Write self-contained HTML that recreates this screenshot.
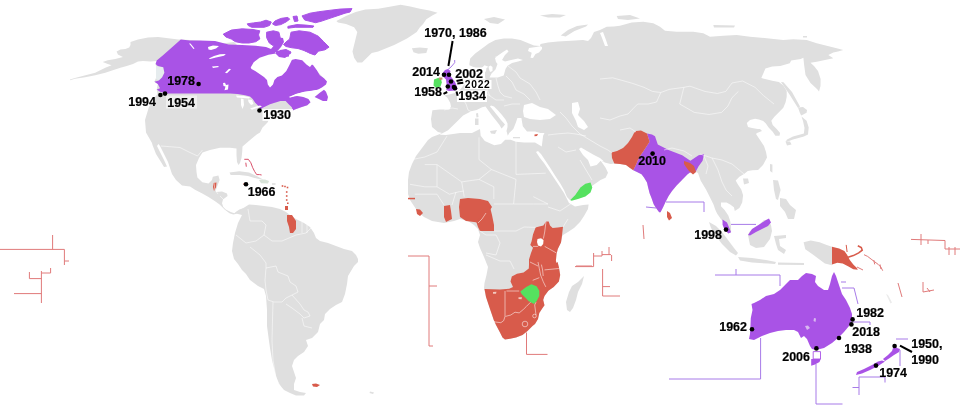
<!DOCTYPE html>
<html><head><meta charset="utf-8"><title>Commonwealth Games hosts</title>
<style>
html,body{margin:0;padding:0;background:#fff;width:960px;height:405px;overflow:hidden}
svg{display:block;will-change:transform}
text{font-family:"Liberation Sans",sans-serif;font-weight:bold;fill:#000;stroke:#000;stroke-width:0.2px}
</style></head><body>
<svg width="960" height="405" viewBox="0 0 960 405">
<rect width="960" height="405" fill="#fff"/>
<path d="M70 79.5 L75 78 L82.6 76 L95.2 72.8 L105.3 67.8 L111.6 65.3 L107.8 64 L102.7 62.1 L107.8 60.2 L115.3 59 L122.9 57.1 L117.9 54.6 L116.6 51.4 L120.4 49.5 L125.4 48.9 L129.2 47.6 L130.5 45.1 L130.5 42 L138 39.4 L148 37.6 L158.2 37 L168.2 38.2 L178.3 39.6 L180.8 39.6 L190 40 L202 41 L210 42 L216 45 L226 43 L234 42 L238 46 L244 48 L250 52 L256 54 L270 53 L286 55 L292 58 L298 59 L306 62 L310 66 L316 70 L319.5 73.8 L323 77.5 L326 82.6 L323 86.4 L320.7 87.6 L317.7 89.7 L312 91 L304 92 L296 94 L289 97.5 L297 96 L303.2 97 L308.4 99 L310.5 102.2 L307.3 105.3 L301.1 107.3 L294.9 109.4 L292.8 110.5 L290 109.5 L286 111 L282.5 112.5 L275 115 L270 117.5 L267.5 122.5 L262.5 127.5 L260 132.5 L256.7 134.4 L248.9 141 L242.5 146.5 L242.2 152 L241.5 158 L240 163 L238.5 165 L237 162 L236.5 155 L236.5 148.5 L230 147.8 L220 147.8 L210 150 L202.5 152.5 L199 158 L196 165 L196.5 172 L197.4 177.4 L202.3 182.3 L208.5 183.6 L212 180 L212.8 176.8 L218.4 175.6 L219.6 180 L217.8 184.8 L216 189.8 L216 192 L222 191.6 L227 193.5 L227.6 196 L223 199.6 L222 203.3 L223.3 207 L225.8 209.5 L230.7 212 L234.4 213.2 L235.7 212 L239.4 209.5 L243 208.3 L244 212 L240 214 L237 213.8 L233.2 214.4 L229.5 213.2 L224.6 209.5 L219.6 204.6 L214.7 201 L208.5 197 L202.3 193.5 L195 189.8 L190 186.5 L182 185.5 L176 180 L172 174 L170 168 L168 162 L164 154 L160 146 L158.5 144 L157 146 L160 152 L164 160 L167 166.5 L164 167 L161 162 L156 154 L152.5 145 L152 143 L146 132.5 L145 120 L148.75 107.5 L155 97 L157.5 94 L156.7 89.4 L157.8 83.9 L154.4 81.7 L156 78 L156 66 L155.6 63.9 L157 61 L150.6 61.5 L143 61 L138 61.5 L133 64 L126.7 66 L120.4 67.8 L112.8 70.3 L105.3 72.8 L95.2 75.3 L85.1 77.2 L75 78.8 L70 80.2 Z" fill="#dfdfdf"/>
<path d="M156 66 L163.3 67.2 L164.4 72.8 L162.2 77.2 L158.9 80.6 L156 79 Z" fill="#e6ecee"/>
<path d="M180.8 39.6 L190 40.5 L200 40.5 L215 41 L228.6 44.4 L242 45 L255.8 45.8 L266 47 L271 49 L273.5 46 L275 40 L279 37.5 L283 38 L284 42 L281 47 L278 50.5 L275 52.5 L290.6 58.7 L296.5 58.4 L302.4 59.5 L306.9 62.4 L313 65 L316.7 70 L319.8 75.2 L324 78.3 L327 81.4 L326 84.5 L321.9 87.6 L317.7 89.7 L312 91 L304 92 L296 94 L289 97.5 L297 96 L303.2 97 L308.4 99 L310.5 102.2 L307.3 105.3 L301.1 107.3 L294.9 109.4 L292.8 110.5 L291.8 107.3 L288.7 104.2 L285.6 101.1 L280.4 101.1 L270 104.2 L262.8 107.8 L260.3 109.5 L259 106.5 L255.2 102.7 L252.7 99 L250 96.4 L245 95.2 L237.6 94 L230 93.6 L165.6 93.4 L160 91.7 L156.7 89.4 L160 88.3 L157.8 83.9 L154.4 81.7 L158.9 80.6 L162.2 77.2 L164.4 72.8 L163.3 67.2 L157.8 66.1 L155.6 63.9 L156.7 60.6 L163.3 55 Z" fill="#a953e6"/>
<path d="M250.7 67.4 L253.7 62.2 L259.6 57.8 L268.5 54.8 L277.4 53.3 L284.8 54.8 L289.3 51.9 L293.7 50.4 L301 48.9 L303 51 L298 55 L292.2 59.3 L289.3 65.2 L286.3 71.1 L281.9 75.6 L277.4 77 L274.4 80 L273 84.4 L270 87.6 L267.8 84.4 L267 80 L264 77 L259.6 74 L255.2 71.1 L251.5 68.9 Z" fill="#ffffff"/>
<path d="M288.7 97 L296 93.9 L304.2 91.8 L311.5 90.7 L317.7 89.7 L320 89.7 L316 92.5 L314.6 97 L313.6 98 L309.4 95.9 L303.2 94.9 L297 94.9 L290.7 97.5 Z" fill="#ffffff"/>
<path d="M208 47 L213 45.5 L219 46 L216 48.5 L211 50 L208.5 49.5 Z" fill="#ffffff"/>
<path d="M208.8 58.4 L214 56 L220 54.3 L225.8 54 L224 55.8 L216 57.5 L210 59 Z" fill="#ffffff"/>
<path d="M212 66.6 L218 65.9 L219 67 L213 67.9 Z" fill="#ffffff"/>
<path d="M225 72.8 L229 68.8 L231 69.2 L227 73.3 Z" fill="#ffffff"/>
<path d="M223 83 L225 82.8 L226 85 L228.5 84.5 L228 89.5 L224.5 90.3 L225.5 86.5 L223.5 86 Z" fill="#ffffff"/>
<path d="M189 43.4 L190.5 43.6 L194.5 48.4 L193.5 48.9 Z" fill="#ffffff"/>
<path d="M276 51 L282 50.2 L288 51.5 L289 55 L285 58 L279 57 L276 54 Z" fill="#a953e6"/>
<path d="M314.6 97 L319.8 92.8 L324 89.7 L326 91.8 L328 97 L327 101.1 L322.9 101.1 L318.8 99 Z" fill="#a953e6"/>
<path d="M236 95.5 L244 96 L250 97.2 L249 98.5 L243 98 L237 97.5 Z" fill="#ffffff"/>
<path d="M241 98.5 L243.5 99 L244 105 L242.5 109 L241 105 Z" fill="#ffffff"/>
<path d="M248 99.5 L252 100 L253.5 104 L251 105 L248.5 102 Z" fill="#ffffff"/>
<path d="M250 108.5 L256 106.5 L260 105.5 L262 106.5 L257 108 L252 109.8 Z" fill="#ffffff"/>
<path d="M302 15.9 L310 13.2 L318.3 11.8 L329 10.4 L340 9.1 L352 8.6 L350 12 L345 13.2 L337 15.9 L329 18.6 L321 21.3 L315.5 22.7 L310 21.3 L304.7 20 Z" fill="#a953e6" stroke="#a953e6" stroke-width="1" stroke-linejoin="round"/>
<path d="M247.3 23.8 L253.5 22.9 L260.6 22 L266 20.2 L271.3 22 L269.5 25.5 L264.2 27.3 L258 27.3 L251.7 27.3 L248.2 25.5 Z" fill="#a953e6" stroke="#a953e6" stroke-width="1" stroke-linejoin="round"/>
<path d="M275 21 L279 19.2 L281.6 18.3 L287.9 17.4 L289.7 19.2 L286.1 21.9 L280.8 24.6 L275.4 25.5 L272.5 24 Z" fill="#a953e6" stroke="#a953e6" stroke-width="1" stroke-linejoin="round"/>
<path d="M287.9 26.4 L296.9 24.6 L305.8 25.1 L313.9 26 L313 27.3 L304 27.3 L295.1 27.3 L287.9 28.2 Z" fill="#a953e6" stroke="#a953e6" stroke-width="1" stroke-linejoin="round"/>
<path d="M293 16.5 L297 16 L298 21 L294.5 21.5 Z" fill="#a953e6" stroke="#a953e6" stroke-width="1" stroke-linejoin="round"/>
<path d="M223.2 34.2 L231.3 30.1 L242.2 28.8 L253 29.5 L259.8 30.8 L258.5 34.9 L259.8 39 L255.8 41.7 L249 43 L242.2 43 L235.4 41.7 L231.3 39 L225.9 37 Z" fill="#a953e6" stroke="#a953e6" stroke-width="1" stroke-linejoin="round"/>
<path d="M266.6 32.2 L273.4 30.8 L278.9 32.2 L280.2 37.6 L277.5 43 L273.4 45.8 L269.3 43 L266.6 37.6 Z" fill="#a953e6" stroke="#a953e6" stroke-width="1" stroke-linejoin="round"/>
<path d="M291 32.2 L299.2 30.8 L310 32.2 L318.3 36.2 L323.7 41.7 L329 47.1 L325 49.8 L318.3 51.2 L315 55 L310 53.5 L304 50.5 L298 48.5 L292 47.8 L286 46.5 L283.5 44.5 L286 42 L289.7 39 Z" fill="#a953e6" stroke="#a953e6" stroke-width="1" stroke-linejoin="round"/>
<path d="M280 50.5 L286 49.5 L291 52 L289 56 L283 56.6 L279.5 54 Z" fill="#a953e6" stroke="#a953e6" stroke-width="1" stroke-linejoin="round"/>
<path d="M288.9 54.7 L295.6 52.4 L302.2 51.3 L306.7 52.4 L312 55 L315 59 L313 63 L310 66.9 L306.7 64.7 L302.2 60.2 L295.6 59.1 L290 60.2 Z" fill="#ffffff"/>
<path d="M336.4 20.9 L346 16 L355.7 12 L365.3 9.6 L378.2 8.8 L391 6.4 L400.6 4.8 L410.3 6.4 L419.9 8.8 L429.5 10.4 L437.5 12.8 L432.7 15.2 L426.3 19.3 L423.1 24.1 L419.9 27.3 L416.7 32.1 L411.9 35.3 L407 38.5 L400.6 41.7 L394.2 44.9 L386.2 48.2 L378.2 51.4 L371.7 53 L366.9 57.8 L362.1 62.6 L357.3 62.6 L354.1 57.8 L352.5 51.4 L354.1 44.9 L355.7 38.5 L357.3 32.1 L354.1 27.3 L346 24.1 L338 22.5 Z" fill="#dfdfdf"/>
<path d="M411.9 48.2 L419.9 47.4 L427.9 48.2 L426.3 53 L418.3 53.8 L413.5 52.2 Z" fill="#dfdfdf"/>
<path d="M484 19 L494 17 L505 19.5 L498 24 L490 23 Z" fill="#dfdfdf"/>
<path d="M442 133 L438 132 L432 127 L431 119 L432.4 110.2 L439.8 109.5 L449.4 109.5 L451 106.5 L450.2 102.8 L447.2 97.6 L444.3 95.4 L449 94.5 L455 93 L459 91 L463 86 L467 80 L472 77 L478 75 L484 74 L486 71 L486.5 68 L488.5 66.8 L484.5 65.2 L482 67.8 L477 68.6 L469.4 65.2 L469.4 63.6 L470.2 58.5 L475.2 53.5 L482 48.5 L488.7 43.4 L495.4 40 L503.8 38.4 L512 38.4 L520.5 40 L529 43.4 L534 45.5 L540 46 L540.5 44 L548 42.6 L558 41.4 L570.8 40.7 L583 40 L588 41 L591 38 L594 32 L600 30 L606.7 26.7 L613.8 26.5 L620 25.8 L631.7 22.5 L643.3 21.7 L653.3 23.3 L660 26.7 L665 30.8 L676.7 31.7 L693.3 31.7 L703.3 33.3 L710 36.7 L723.3 35.8 L736.7 35 L750 36.7 L766.7 38.3 L783.3 40 L793.3 39.2 L806.7 40 L816.7 43.3 L826.7 45.8 L836.7 48.3 L843.3 50 L838 51.5 L833.3 52.5 L828.3 55 L833.3 58.3 L825 60 L816.7 61.7 L810.5 62.8 L814 66 L818 71 L820.6 79 L820.5 86 L819 91.5 L817 89 L810.5 83 L805.5 75 L804 64 L803.4 57.7 L800.7 59.1 L791.2 60.4 L789.8 63.2 L780.3 65.9 L772.2 66.5 L765.4 68.6 L761.3 78.1 L772.2 80.8 L778.9 82 L783.3 85.6 L786.7 91.1 L786.7 96.7 L785.6 102.2 L783.3 107.8 L778.9 112.2 L774.4 116.7 L771.3 120.8 L772.7 124.9 L776.7 129 L780.1 133 L779.5 135.8 L775.4 135.8 L772.7 131.7 L768.6 127.6 L765.9 123.5 L763.2 121 L759 119.5 L755 118.7 L750 120 L746.8 122.9 L748 127 L752 128 L757.7 129 L760 129 L762 131 L757 133 L756 134 L760 140 L764 146 L766 152 L767 157.6 L763 165 L758 170 L752.4 170.2 L747.8 171.1 L744 173.9 L739.4 176.7 L735.7 180.4 L737.6 184 L741.3 189.6 L743.1 195.2 L742.2 202.6 L739.4 208.1 L734.8 211 L733.9 207.2 L730.2 204.4 L726.5 202.6 L721 202.6 L721 206.3 L724.6 210 L728.3 215.6 L730.2 221 L731 226 L731.1 232.2 L728.3 233.1 L724.6 229.4 L722.8 224.8 L722.8 221 L721 219.3 L717.2 213.7 L715.4 210 L713.5 204.4 L709.8 197 L706 189.6 L700.6 180.4 L698 173 L696 172 L690 172.5 L687.6 174.3 L682 180 L676.8 185.2 L672 191 L668.6 196 L665.5 202 L663.2 207 L660.5 212.3 L659.2 212.3 L656 208 L653.7 204.2 L651.5 198 L649.6 193.3 L648 187 L647 182.5 L644 177.5 L641.5 174.3 L637 172 L633.3 170.2 L630 168 L626 165 L620 164 L614.3 163.6 L610.6 164 L605.6 162.7 L600.5 160.5 L603 164 L605.6 167.7 L608 172.7 L605.6 177.8 L600.5 180 L593 185.3 L589 188 L585.4 190.4 L580 194 L575 197.5 L570.3 200.5 L567 197 L564 190 L560 183 L555 175.5 L550 167.5 L545 160 L541 154 L538 151 L536 152 L540 158 L544 163 L548 169 L552 175 L556 181 L560 187 L564 193 L567 199 L569 203 L575 206.4 L583 205 L588.6 204.6 L588 209 L584 216 L580 222 L574 228 L568 232 L563 235 L561.8 237.3 L561 242.5 L557.8 249 L556.5 254.3 L555.9 260.8 L556.5 263 L557.6 262 L558.9 267.2 L560.2 275.1 L558.9 281.6 L553.7 286.9 L548.4 290.8 L544.5 296 L543.2 300 L544.5 305.2 L541.9 309.1 L539.3 313 L538 319 L535 324 L532.5 326 L527.5 331 L522.5 335 L516 337.5 L510 338.75 L505 339.4 L502.5 337.5 L500 332.5 L496 325 L493.75 320 L490 309 L486 297 L484 288 L484.5 283 L486.5 275 L488 267 L484 257 L480 248 L478 242 L480 235 L478 229 L474 225 L468 221 L460 219 L454 221 L444 223 L432 221 L424 217 L418 212 L414 206 L410 200 L408 194 L408 188 L408 180 L409 172 L412 164 L416 156 L422 148 L428 140 L432 137 L440 134 Z" fill="#dfdfdf"/>
<path d="M440 134.4 L448.1 130.3 L456.3 122.2 L463.1 115.4 L471.2 111.3 L476.6 109.9 L482.1 107.2 L485.5 106.5 L488 110 L492 115.5 L496 120.5 L499.5 125 L501.5 128.5 L499.5 130.5 L503 127 L505 124.5 L501 120 L497 115 L493 110 L490 106.5 L491 105.5 L494 106.5 L498 110.5 L502 115 L505.5 119.5 L507.5 123.5 L507.5 127 L506.5 131 L507.8 135.7 L509.2 133 L513.3 129 L516 122.2 L517.4 118 L521.4 118 L522.8 126.2 L527 131.6 L535 131.6 L540.5 133 L544.5 133 L543.1 135.7 L541.8 146.6 L535 142.5 L524.2 142.5 L516 141.8 L510.6 139.8 L505.2 139.8 L501 143.9 L494.3 145.2 L484.8 141.1 L480.7 135.7 L480 129 L472 133 L460 133 L446 135 L440 134.8 Z" fill="#ffffff"/>
<path d="M476 113.5 L478 113 L478.5 117 L476.5 117.5 Z" fill="#dfdfdf"/>
<path d="M475 118.5 L478.5 118.5 L478.5 125 L475 125 Z" fill="#dfdfdf"/>
<path d="M490 131 L497 130 L495 134 L491 133.5 Z" fill="#dfdfdf"/>
<path d="M513 137 L520 137 L520 138.3 L513 138.3 Z" fill="#dfdfdf"/>
<path d="M524 105 L532 103 L540 107 L548 109 L556 115 L550 119 L540 120 L530 119 L524 117 L523 111 Z" fill="#ffffff"/>
<path d="M572 103 L578 102 L580 109 L578 115 L584 121 L588 127 L584 130 L578 127 L576 121 L572 113 Z" fill="#ffffff"/>
<path d="M579 149 L583 155 L588 160 L590.5 166.4 L596.7 165 L600.5 161 L604 161.5 L600 158 L594 155 L587 151 L581 147.5 Z" fill="#ffffff"/>
<path d="M507 49.5 L503 52 L498 55.5 L495 58 L496 62 L497.5 64 L495.5 69.5 L491.5 73.5 L489.5 77.5 L497.7 77.6 L503.7 75.6 L505.6 68.7 L507.6 65.7 L512 63 L518 61.5 L523 60 L518 58.5 L511 60 L505 61.5 L502 60 L505 55 L508.5 51.5 Z" fill="#ffffff"/>
<path d="M488.5 66.8 L490.5 65.5 L492.5 67 L492.5 71 L490 72 L489 69 Z" fill="#ffffff"/>
<path d="M540 46.3 L536 47 L529 48 L528 51 L531.7 52.7 L530.5 57.7 L533 58 L535.5 54 L539 52.5 L542 49 L542 47 Z" fill="#ffffff"/>
<path d="M445 70 L448 69 L450.5 71 L449.5 74.5 L452 78 L455 82 L456.5 85.5 L457.5 89 L455 90.5 L449 91 L446 90 L448 87.5 L446.5 83.5 L446 79.5 L443.5 77 L443 72.5 Z" fill="#a953e6"/>
<path d="M434 79.5 L438 78 L441 78.5 L441.8 82.5 L440.5 86.5 L436 88 L433.5 85.5 Z" fill="#55e15f"/>
<path d="M438.7 77.6 L442.3 77.4 L442.5 79.6 L439.5 80 Z" fill="#c9906f"/>
<path d="M534.5 134.5 L538 134 L537 136 L534.5 136.2 Z" fill="#d85b4b"/>
<path d="M560.7 35.5 L568 30 L577 26 L588 24.5 L586 26.5 L574.5 31 L565.7 36.5 Z" fill="#dfdfdf"/>
<path d="M540 15.5 L552 14 L566 15 L560 17.5 L548 17.5 Z" fill="#dfdfdf"/>
<path d="M616.7 16 L630 15 L640 18.5 L628 20 L618 19 Z" fill="#dfdfdf"/>
<path d="M600 33 L603 32 L606 40 L608 46 L605 46 L602 38 Z" fill="#ffffff"/>
<path d="M713.3 25 L735 25.5 L734 27.5 L714 27.5 Z" fill="#dfdfdf"/>
<path d="M803 36 L807 36 L807 37.5 L803 37.5 Z" fill="#dfdfdf"/>
<path d="M781 82 L783.5 82.3 L792 92 L800 106.5 L798 108 L789.5 94.5 Z" fill="#dfdfdf"/>
<path d="M798 107.5 L803 107 L807 110 L806.6 112.7 L801.2 115.4 L799.8 112.7 Z" fill="#dfdfdf"/>
<path d="M801.5 116.5 L806.6 120.8 L808.7 127.6 L808 134.4 L803.9 136.5 L798.5 138 L793 139.5 L787.6 141.5 L785.6 141.9 L787 139.5 L793 136.5 L798.5 135 L803.9 133.5 L804.5 128 L803 121 Z" fill="#dfdfdf"/>
<path d="M785.5 141.5 L790 141.5 L791.5 144.5 L787 145.5 Z" fill="#dfdfdf"/>
<path d="M770 164 L772.4 164.5 L772.4 172.7 L770 171 Z" fill="#dfdfdf"/>
<path d="M743 178.5 L748 178.5 L749 183 L744 184.5 Z" fill="#dfdfdf"/>
<path d="M773 180 L778 180.5 L780.6 190 L778 200 L776 199 L774 190 Z" fill="#dfdfdf"/>
<path d="M780 198 L786 199 L790 205 L796 210 L794 219 L788 219 L785 212 L780 206 Z" fill="#dfdfdf"/>
<path d="M667 211 L670 213 L672 218 L669 220.5 L667 217 Z" fill="#d85b4b"/>
<path d="M709 222 L716 226 L722 232 L728 240 L734 248 L738 253 L736 255.5 L730 252 L722 244 L716 236 L711 228 Z" fill="#dfdfdf"/>
<path d="M738 257 L752 258 L766 260 L776 262 L775 264 L768 263.5 L752 262.5 L740 260.5 Z" fill="#dfdfdf"/>
<path d="M778 262.5 L804 263 L804 265 L778 264.8 Z" fill="#dfdfdf"/>
<path d="M748 235 L750 245 L756 248 L764 247 L770 239 L772 231 L771 225 L768 220.5 L764 220 L756 228 L750 231 Z" fill="#dfdfdf"/>
<path d="M748 235 L752 229 L760 224 L766 220 L769 218.5 L771 222.5 L768 226 L762 229 L756 232 L750 235.5 Z" fill="#a953e6"/>
<path d="M774 236 L786 235 L786 238 L779 239 L780 246 L786 250 L784 254 L778 250 L776 244 Z" fill="#dfdfdf"/>
<path d="M803.6 242.2 L810.7 240.4 L819.6 242.2 L826.7 244.9 L832 246.7 L832 265.3 L824.9 263.6 L817.8 258.2 L810.7 252.9 L805.3 249.3 Z" fill="#dfdfdf"/>
<path d="M832 246.7 L839.1 248.4 L844.4 251.1 L847.1 254.7 L849.8 260 L853.3 264.4 L856.9 268 L857.8 269.8 L853.3 269.2 L848 266.2 L842.7 263.6 L837.3 262.7 L832 264.4 Z" fill="#d85b4b"/>
<path d="M584 276 L582 284 L578 292 L576 300 L573 308 L570 312 L567 310 L566 302 L569 292 L572 286 L578 282 Z" fill="#dfdfdf"/>
<path d="M647 133.6 L652 134.5 L655 136.3 L657.8 144.5 L668.6 150 L682.2 155.3 L690.4 160.7 L698.6 155.3 L704 154 L702.6 160.7 L698.6 166.2 L695.8 171.6 L690 172.5 L687.6 174.3 L682 180 L676.8 185.2 L672 191 L668.6 196 L665.5 202 L663.2 207 L660.5 212.3 L659.2 212.3 L656 208 L653.7 204.2 L651.5 198 L649.6 193.3 L648 187 L647 182.5 L644 177.5 L641.5 174.3 L637 172 L633.3 170.2 L636 164.8 L638.8 158 L644.2 149.9 L649.6 141.7 Z" fill="#a953e6"/>
<path d="M636 131 L641 130.5 L647 133.6 L649.6 141.7 L644.2 149.9 L638.8 158 L636 164.8 L633.3 170.2 L630 168 L626 165 L620 164 L614.3 163.6 L612 158 L611.6 152.6 L617 151 L623 148 L628 143 L632 137 L634 133 Z" fill="#d85b4b"/>
<path d="M684 161 L690 163 L694 166 L696 172 L693 174.5 L689 171 L686 167 L684 164 Z" fill="#d85b4b"/>
<path d="M722.5 219.5 L727 222.5 L729.3 228 L731.1 232.2 L728.3 233.4 L724.6 229.6 L722.6 225 Z" fill="#a953e6"/>
<path d="M460 199 L468 198 L480 199 L488 201 L492 207 L488 213 L486 219 L480 223 L474 222 L466 221 L460 217 L459 207 Z" fill="#d85b4b"/>
<path d="M490 207 L492 215 L494 225 L494 231 L480 231 L478 227 L476 221 L484 215 Z" fill="#d85b4b"/>
<path d="M444 206 L450 205 L451 211 L452 219 L446 222 L444 217 Z" fill="#d85b4b"/>
<path d="M416 209 L420 209.5 L423 213 L420 216 L417 214 Z" fill="#d85b4b"/>
<path d="M408 197.8 L415 197.8 L415 199.3 L408 199.3 Z" fill="#d85b4b"/>
<path d="M535.6 227.4 L538.2 226.8 L543.4 225.5 L546 221.5 L548.7 221.5 L550 225.5 L552.6 228 L557.8 227.4 L563 226.8 L562.4 232 L561.8 237.3 L561 242.5 L557.8 249 L556.5 254.3 L555.9 260.8 L556.5 263 L557.6 262 L558.9 267.2 L560.2 275.1 L558.9 281.6 L553.7 286.9 L548.4 290.8 L544.5 296 L543.2 300 L544.5 305.2 L541.9 309.1 L539.3 313 L538 319 L535 324 L532.5 326 L527.5 331 L522.5 335 L516 337.5 L510 338.75 L505 339.4 L502.5 337.5 L500 332.5 L496 325 L493.75 320 L490 309 L486 297 L484.5 289 L500 289.5 L509.2 288.8 L513 286.9 L510.5 281.6 L511.8 276.4 L517 273.8 L523.6 272.5 L528.8 268.5 L529 264.7 L529 259.5 L531 253 L533 247.7 L530.3 245.1 L531.6 241.2 L533 234.6 Z" fill="#d85b4b"/>
<path d="M537.5 239 L541 238.3 L543.5 240 L543.2 244 L541 246.4 L538 245.5 L537 242 Z" fill="#ffffff"/>
<path d="M493 292 L496.5 291.8 L496 293.8 L493 293.8 Z" fill="#f3c9bf"/>
<path d="M518.5 297.3 L522 297.3 L521.5 299.2 L518.5 299 Z" fill="#f3c9bf"/>
<path d="M520.3 291.5 L526.2 286.9 L531.4 284.2 L536.6 286.2 L539.3 290.8 L539.3 296 L536.6 301.3 L534 303.9 L528.8 301.3 L524.9 297.3 L521.6 294 Z" fill="#55e15f"/>
<path d="M570.3 200 L575.3 195 L580.4 187.6 L585.4 183.8 L590.5 182.5 L592.3 187.6 L590.5 192.6 L585.4 196.4 L578 199 L571.6 200.8 Z" fill="#55e15f"/>
<path d="M237 213.8 L243 208.3 L249 204.6 L256 205 L264 206 L272 207 L280 209 L286 212 L290 215 L296 219 L304 223 L310 227 L314 233 L316 238 L320 241 L328 243 L336 246 L344 249 L352 251 L356 255 L358 259 L358 262 L354 266 L348 276 L347 284 L345 294 L342 302 L336 305 L330 309 L325 314 L324 320 L320 324 L318 332 L312 338 L306 340 L308 346 L304 352 L298 356 L294 360 L292 366 L294 372 L296 378 L294 384 L294 390 L300 392 L306 393 L304 395.5 L296 395.5 L290 393 L284 390 L279 384 L276 376 L274 368 L272 360 L270 348 L269 341 L267 326 L267 310 L266 296 L264 289 L258 286 L250 280 L246 274 L242 270 L238 264 L234 259 L232 251 L233 243 L235 233 L238 223 L242 215 Z" fill="#dfdfdf"/>
<path d="M287 215 L292 215 L296 221 L296 229 L293 233 L290 233 L289 227 L287 221 Z" fill="#d85b4b"/>
<path d="M312 384 L316 383.5 L320 385 L317 387 L313 386.5 Z" fill="#d85b4b"/>
<path d="M285 206 L288 206 L288 210 L285 210 Z" fill="#d85b4b"/>
<path d="M281.7 185.2 L283.3 185.2 L283.3 186.8 L281.7 186.8 Z" fill="#d85b4b"/>
<path d="M284.2 185.7 L285.8 185.7 L285.8 187.3 L284.2 187.3 Z" fill="#d85b4b"/>
<path d="M286.7 186.7 L288.3 186.7 L288.3 188.3 L286.7 188.3 Z" fill="#d85b4b"/>
<path d="M285.9 191.2 L287.5 191.2 L287.5 192.8 L285.9 192.8 Z" fill="#d85b4b"/>
<path d="M285.9 195.2 L287.5 195.2 L287.5 196.8 L285.9 196.8 Z" fill="#d85b4b"/>
<path d="M285.9 199.2 L287.5 199.2 L287.5 200.8 L285.9 200.8 Z" fill="#d85b4b"/>
<path d="M287 202.5 L288.6 202.5 L288.6 204.1 L287 204.1 Z" fill="#d85b4b"/>
<path d="M272 183.2 L275.5 183.2 L275.5 184.8 L272 184.8 Z" fill="#dfdfdf"/>
<path d="M370 391.5 L374 392.5 L373 394 L369.5 393 Z" fill="#dfdfdf"/>
<path d="M886 294 L888 295 L892 302.5 L890.5 303.5 Z" fill="#ebebeb"/>
<path d="M229.5 172.5 L239.4 171.2 L249 172.5 L256.7 176 L264 180 L256.7 178.6 L248 176 L239.4 175 L230.7 175 Z" fill="#dfdfdf"/>
<path d="M259 180 L265 179.5 L269 181 L268 183.6 L261 183.2 Z" fill="#d8e3d8"/>
<path d="M243 183.5 L247 183.3 L248 185 L244 185 Z" fill="#d85b4b"/>
<path d="M213.5 183 L216.5 182.6 L216 187.3 L214 191 L213 187 Z" fill="#d85b4b"/>
<path d="M751.5 304 L752.5 310 L750.8 318 L750.5 325 L750 334 L749 339 L754 340 L762 336 L770 333 L778 331 L786 330 L794 330 L798 332 L801 338 L804 336 L807 339 L810 346 L812 349 L816 350 L824 348 L832 343 L838 338 L844 332 L849 326 L852 320 L852 314 L850 308 L846 300 L842 294 L840 288 L838 282 L836 276 L834 272 L832 276 L830 284 L828 290 L824 290 L818 286 L815 282 L816 276 L812 274 L806 273 L802 276 L798 280 L790 280 L786 284 L780 290 L774 294 L766 296 L760 300 L754 303 Z" fill="#a953e6"/>
<path d="M811.2 359 L820.7 359 L819.5 362 L815 364.6 L811.2 365.8 Z" fill="#a953e6"/>
<path d="M813.2 351.6 L820.5 351.6 L820.5 359 L813.2 359 Z" fill="#fff" stroke="#a953e6" stroke-width="0.9"/>
<path d="M894 345 L897 348 L900 349 L899 352 L894 355 L889 358.5 L885 361 L883 359 L888 355 L892 351 L893 348 Z" fill="#a953e6"/>
<path d="M882 360.5 L885 361.5 L878 366 L870 370 L862 373.5 L856 375 L857 372 L864 369 L872 365 L878 361.5 Z" fill="#a953e6"/>
<path d="M805 326 L808 325.5 L810 328 L807 330 Z" fill="#d9b8f0"/>
<path d="M814 318 L816 318.5 L815.5 322 L813.5 321 Z" fill="#d9b8f0"/>
<g fill="none" stroke="#fff" stroke-width="0.7" stroke-opacity="0.75" stroke-linejoin="round"><polyline points="447,136 437,152 424.7,157 412,159.6"/>
<polyline points="424.7,164.6 437,164.6 437,186.8"/>
<polyline points="437,164.6 461.7,181.9 479,179.4 491.4,169.5"/>
<polyline points="479,137.4 479,159.6 491.4,169.5"/>
<polyline points="516,140 516,174.4 545.7,173.2"/>
<polyline points="491.4,169.5 516,179.4 513.6,204"/>
<polyline points="461.7,181.9 464.2,196.7"/>
<polyline points="479,179.4 493.8,186.8 493.8,199"/>
<polyline points="437,186.8 449.4,194.2 459.3,191.7 464,191"/>
<polyline points="410,184.3 424.7,186.8 437,186.8"/>
<polyline points="414.8,194.2 437,194.2 444,205"/>
<polyline points="513.6,204 533.3,204 548,204 533.3,196.7"/>
<polyline points="493.8,204 513.6,204"/>
<polyline points="480,231 486,235 496,235 500,243 496,255 486,253"/>
<polyline points="494,231 516,231 524,227 535.6,227.4"/>
<polyline points="486,255 500,261 510,261 514,269"/>
<polyline points="548,207 560,211 572,203"/>
<polyline points="568,219 563,227"/>
<polyline points="452,205 456,192"/>
<polyline points="505,291 505,316.4 503.7,320.6 500.9,322.7 495.3,322 493.9,321.3"/>
<polyline points="506.5,291 519.2,291"/>
<polyline points="505.5,316.4 510.8,315 515,312.2 519.2,312.9 523.4,309.4 526.3,306.5 530.5,302.3"/>
<polyline points="536,302.3 534.7,305 536,315"/>
<polyline points="538,262 539.3,268.5 540.6,275 543.2,281.6 545.8,286.9"/>
<polyline points="532.7,280.3 539.3,277.7"/>
<polyline points="544.5,269.9 558.9,268.5"/>
<polyline points="530,262 538,266"/>
<polyline points="546,221.5 544.7,232 543.4,238.6"/>
<polyline points="544.7,246.4 556.5,253"/>
<polyline points="533,246.4 538.2,246.4"/>
<polyline points="541.4,264.6 542.6,270 543.2,276"/>
<polyline points="486,213 482,219 478,223"/>
<polyline points="266,268 276,266 278,272 288,276 290,282 296,286 298,292 292,295 286,298 282,302 274,302 268,300 266,290 265,280 266,268"/>
<polyline points="292,295 300,304 304,310 308,312 310,316 304,318 300,314 292,308 286,304"/>
<polyline points="273,302 272.5,320 272,341 273,360 276,378 280,386"/>
<polyline points="302,318 304,326 312,328"/>
<polyline points="248,209 250,221 262,221 266,225 264,235"/>
<polyline points="282,241 296,235 306,233 312,227"/>
<polyline points="250,247 260,255 266,263 266,268"/>
<polyline points="236,235 246,243 256,241 264,235 272,241 282,241"/>
<polyline points="302,222 302,233"/>
<polyline points="307,225 307,233"/>
<polyline points="444,110 452,108 458,109"/>
<polyline points="457,95 462,98 466,104 468,110 472,112"/>
<polyline points="470,96 476,93 484,92 490,96 496,100 504,100"/>
<polyline points="484,76 488,84 487,90 490,96"/>
<polyline points="496,78 498,86 500,92 504,96 512,98"/>
<polyline points="506,76 512,82 516,90 524,94 530,100"/>
<polyline points="508,66 516,72 520,78 530,84 536,92 540,100"/>
<polyline points="496,56 497.5,62"/>
<polyline points="504,106 512,104 520,104"/>
<polyline points="600,79 612.6,77.8 631.4,83 644,87.3 652.4,91.4 660.8,92.5 669.2,89.4 683.9,87.3 690,86.2 704.8,91.4 717.4,93.5 725.8,91.4 732,83 742.6,81 755,87.3 763.5,95.6 774,104"/>
<polyline points="683.9,87.3 679.7,104 694.3,112.4 709,114.5 721.6,112.4 727.9,106.1 732,97.7 738.4,91.4"/>
<polyline points="660.8,92.5 656.6,102 648.2,104 637.7,104 633.5,108.2 628,114 620,116 610,120 600,118"/>
<polyline points="560,112 566,118 572,126 580,134 590,140 600,146"/>
<polyline points="548,135 556,134 568,133 576,134 586,136"/>
<polyline points="600,146 608,150 612,153"/>
<polyline points="620,130 630,128 636,132"/>
<polyline points="664,150 672,148 684,151 692,156"/>
<polyline points="700,154 712,158 722,160 732,164 744,174"/>
<polyline points="712,158 718,170 722,182 726,190 732,196"/>
<polyline points="704,156 708,166 706,174"/>
<polyline points="580,160 586,170 592,180"/>
<polyline points="558,147 566,152 576,150"/>
<polyline points="161,146 180,147.5 190,152.5 197.5,156 202.5,150"/>
<polyline points="214,183 215,190 218,194"/>
<polyline points="220,196 224,200"/><circle cx="525" cy="324" r="2.8"/><circle cx="534.5" cy="316" r="1.8"/></g>
<polyline points="0,249.4 64.4,249.4 64.4,265" fill="none" stroke="#e07a7a" stroke-width="1"/>
<polyline points="52.6,235 52.6,249.4" fill="none" stroke="#e07a7a" stroke-width="1"/>
<polyline points="64.4,261 69,261" fill="none" stroke="#e07a7a" stroke-width="1"/>
<polyline points="41.4,271 41.4,303" fill="none" stroke="#e07a7a" stroke-width="1"/>
<polyline points="29.4,272 29.4,278.6 41.4,278.6" fill="none" stroke="#e07a7a" stroke-width="1"/>
<polyline points="41.4,273 50.6,273 50.6,268" fill="none" stroke="#e07a7a" stroke-width="1"/>
<polyline points="14,293.6 41.4,293.6" fill="none" stroke="#e07a7a" stroke-width="1"/>
<polyline points="911,239.4 945,240.5 945,249 960,249" fill="none" stroke="#e07a7a" stroke-width="1"/>
<polyline points="921,234 921,245" fill="none" stroke="#e07a7a" stroke-width="1"/>
<polyline points="928,240 928,244" fill="none" stroke="#e07a7a" stroke-width="1"/>
<polyline points="949,247 949,255" fill="none" stroke="#e07a7a" stroke-width="1"/>
<polyline points="955,247 955,255" fill="none" stroke="#e07a7a" stroke-width="1"/>
<polyline points="898,283 900,290 902,297" fill="none" stroke="#e07a7a" stroke-width="1"/>
<polyline points="923,282 923,292 934,290" fill="none" stroke="#e07a7a" stroke-width="1"/>
<polyline points="927,288 930,292" fill="none" stroke="#e07a7a" stroke-width="1"/>
<polyline points="244.3,159.3 248.3,159.3 250.8,162.7 252.7,167.7 254.7,171.6 256.7,174.6 259.6,174.6 261.6,175" fill="none" stroke="#d9506a" stroke-width="1"/>
<polyline points="245.8,162.7 246.3,166.7" fill="none" stroke="#d9506a" stroke-width="1"/>
<polyline points="848,257.3 853.3,255.6 858.7,252.9 862.2,250.2 861.3,247.6 857.8,245.8" fill="none" stroke="#d85b4b" stroke-width="1.6"/>
<polyline points="846.2,244.9 847.1,252" fill="none" stroke="#d85b4b" stroke-width="1"/>
<polyline points="864,254.7 867.6,256.4 871.1,259.1 874.7,261.8 878.2,264.4 880.9,267.1 882.7,270.7" fill="none" stroke="#e07a7a" stroke-width="1"/>
<polyline points="873.8,260 874.7,264.4" fill="none" stroke="#e07a7a" stroke-width="1"/>
<polyline points="880,264.4 880.9,269" fill="none" stroke="#e07a7a" stroke-width="1"/>
<polyline points="857,267 860,268.5 863,270" fill="none" stroke="#e07a7a" stroke-width="1"/>
<polyline points="408,256 429,256 429,346 433,346" fill="none" stroke="#e07a7a" stroke-width="1"/>
<polyline points="429,286 437,286" fill="none" stroke="#e07a7a" stroke-width="1"/>
<polyline points="526.5,332.5 526.5,354.4 547.5,354.4" fill="none" stroke="#e07a7a" stroke-width="1"/>
<polyline points="575,266.6 593.6,266.6 593.6,253" fill="none" stroke="#e07a7a" stroke-width="1"/>
<polyline points="593.6,256 602,256 602,251" fill="none" stroke="#e07a7a" stroke-width="1"/>
<polyline points="602,254.6 611,254.6" fill="none" stroke="#e07a7a" stroke-width="1"/>
<polyline points="609,247 609,255" fill="none" stroke="#e07a7a" stroke-width="1"/>
<polyline points="611.6,255 611.6,261" fill="none" stroke="#e07a7a" stroke-width="1"/>
<polyline points="643,225 644,239" fill="none" stroke="#e07a7a" stroke-width="1"/>
<polyline points="602.6,269 602.6,296 620,296" fill="none" stroke="#e07a7a" stroke-width="1"/>
<polyline points="602.6,286.6 610,286.6" fill="none" stroke="#e07a7a" stroke-width="1"/>
<polyline points="576,266 592,266" fill="none" stroke="#e07a7a" stroke-width="1"/>
<polyline points="447.4,70 451,67 454.7,62.7 454.7,60" fill="none" stroke="#a77be8" stroke-width="1"/>
<polyline points="666,202 704,202 704,212" fill="none" stroke="#a77be8" stroke-width="1"/>
<polyline points="646,207 656,208" fill="none" stroke="#a77be8" stroke-width="1"/>
<polyline points="731,224.4 756,224.4" fill="none" stroke="#a77be8" stroke-width="1"/>
<polyline points="715,275 780,275 780,286" fill="none" stroke="#a77be8" stroke-width="1"/>
<polyline points="736,269 736,275" fill="none" stroke="#a77be8" stroke-width="1"/>
<polyline points="760.6,338 760.6,379 669,379" fill="none" stroke="#a77be8" stroke-width="1"/>
<polyline points="816,364 816,404 842.5,404" fill="none" stroke="#a77be8" stroke-width="1"/>
<polyline points="859,377 885,377 885,382.5" fill="none" stroke="#a77be8" stroke-width="1"/>
<polyline points="859,377 859,395" fill="none" stroke="#a77be8" stroke-width="1"/>
<polyline points="852.5,387.5 859,387.5" fill="none" stroke="#a77be8" stroke-width="1"/>
<polyline points="896,339 908,339" fill="none" stroke="#a77be8" stroke-width="1"/>
<polyline points="900,350 900,366" fill="none" stroke="#a77be8" stroke-width="1"/>
<polyline points="841,282 846,282" fill="none" stroke="#a77be8" stroke-width="1"/>
<polyline points="842,288 854,288 858,304" fill="none" stroke="#a77be8" stroke-width="1"/>
<polyline points="850,322 870,322 870,325" fill="none" stroke="#a77be8" stroke-width="1"/>
<rect x="455" y="67.5" width="30" height="12" fill="#fff" fill-opacity="1"/>
<rect x="464.5" y="80" width="27" height="9" fill="#fff" fill-opacity="1"/>
<rect x="457" y="90.5" width="30" height="11.5" fill="#fff" fill-opacity="1"/>
<rect x="166" y="95.5" width="31" height="13" fill="#fff" fill-opacity="0.5"/>
<rect x="262.5" y="109" width="30.5" height="12" fill="#fff" fill-opacity="0.85"/>
<line x1="452.6" y1="41" x2="448.4" y2="66" stroke="#000" stroke-width="2"/>
<line x1="456.5" y1="80.9" x2="462.7" y2="79.7" stroke="#000" stroke-width="2"/>
<line x1="457.3" y1="83.6" x2="463.3" y2="82.8" stroke="#000" stroke-width="2"/>
<line x1="456.5" y1="91.4" x2="457.7" y2="95.7" stroke="#000" stroke-width="2"/>
<line x1="443.5" y1="93.9" x2="447.2" y2="92" stroke="#000" stroke-width="2"/>
<line x1="900" y1="345.6" x2="912" y2="352" stroke="#000" stroke-width="2"/>
<text x="167.2" y="84.7" font-size="12.5">1978</text>
<text x="128.2" y="106.2" font-size="12.5">1994</text>
<text x="167.2" y="106.7" font-size="12.5">1954</text>
<text x="263.2" y="119.2" font-size="12.5">1930</text>
<text x="247.7" y="195.7" font-size="12.5">1966</text>
<text x="424.2" y="36.7" font-size="12.5">1970, 1986</text>
<text x="412.2" y="75.7" font-size="12.5">2014</text>
<text x="455.2" y="77.7" font-size="12.5">2002</text>
<text x="464.7" y="87.9" font-size="10.3" letter-spacing="0.75" style="stroke-width:0">2022</text>
<text x="414.2" y="96.2" font-size="12.5">1958</text>
<text x="458.2" y="100.4" font-size="12.5">1934</text>
<text x="638.2" y="164.7" font-size="12.5">2010</text>
<text x="694.2" y="238.7" font-size="12.5">1998</text>
<text x="719.2" y="330.7" font-size="12.5">1962</text>
<text x="856.2" y="316.7" font-size="12.5">1982</text>
<text x="852.2" y="335.7" font-size="12.5">2018</text>
<text x="844.2" y="352.7" font-size="12.5">1938</text>
<text x="782.2" y="360.7" font-size="12.5">2006</text>
<text x="911.2" y="347.7" font-size="12.5">1950,</text>
<text x="911.2" y="363.7" font-size="12.5">1990</text>
<text x="879.2" y="376.7" font-size="12.5">1974</text>
<g fill="#000"><circle cx="198.6" cy="84" r="2.3"/>
<circle cx="160.4" cy="95" r="2.3"/>
<circle cx="165" cy="93.6" r="2.3"/>
<circle cx="259.5" cy="110.5" r="2.3"/>
<circle cx="246" cy="184.2" r="2.3"/>
<circle cx="444" cy="74.8" r="2.3"/>
<circle cx="449" cy="74.8" r="2.3"/>
<circle cx="451" cy="81.5" r="2.3"/>
<circle cx="447.8" cy="86.5" r="2.3"/>
<circle cx="454" cy="87" r="2.3"/>
<circle cx="455" cy="88.3" r="2.3"/>
<circle cx="652.6" cy="153.6" r="2.3"/>
<circle cx="726" cy="229.6" r="2.3"/>
<circle cx="752" cy="329.2" r="2.3"/>
<circle cx="852.6" cy="319.4" r="2.3"/>
<circle cx="851.4" cy="324.4" r="2.3"/>
<circle cx="839" cy="338" r="2.3"/>
<circle cx="816.4" cy="348.4" r="2.3"/>
<circle cx="894.6" cy="346" r="2.3"/>
<circle cx="876" cy="365.6" r="2.3"/></g>
</svg>
</body></html>
